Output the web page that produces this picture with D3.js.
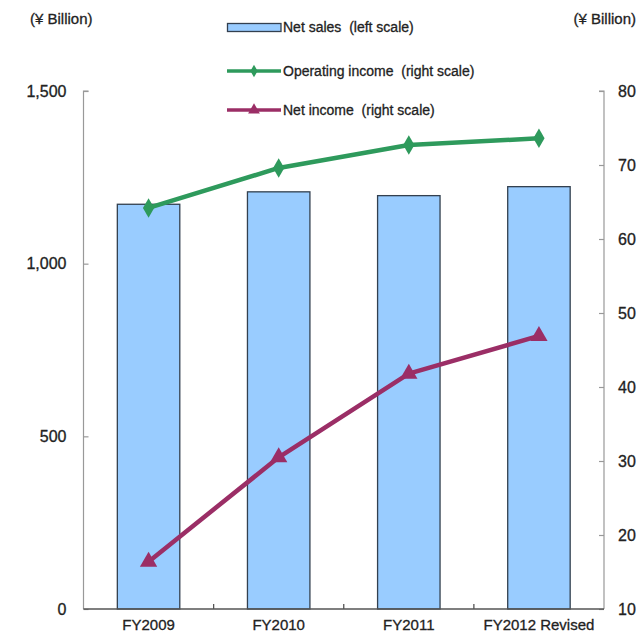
<!DOCTYPE html>
<html><head><meta charset="utf-8">
<script src="https://cdn.jsdelivr.net/npm/d3@7"></script>
<style>body{margin:0;background:#fff}svg{display:block}text{font-family:"Liberation Sans",Arial,sans-serif;stroke:#222;stroke-width:0.3px}</style>
</head><body>
<svg id="c" width="639" height="634"></svg>
<script>
const categories = ["FY2009","FY2010","FY2011","FY2012 Revised"];
const netSales = [1172, 1208, 1197, 1223];
const operatingIncome = [64.2, 69.6, 72.7, 73.6];
const netIncome = [16.4, 30.5, 41.8, 46.9];
const leftTicks = [0, 500, 1000, 1500];
const rightTicks = [10, 20, 30, 40, 50, 60, 70, 80];
const legendLabels = ["Net sales\u00A0 (left scale)", "Operating income\u00A0 (right scale)", "Net income\u00A0 (right scale)"];
const unitLabel = "(¥ Billion)";

const svg = d3.select("#c");
const L = 83.5, R = 604, T = 91, B = 609;
const x = d3.scaleBand().domain(categories).range([L, R]).paddingInner(0.52).paddingOuter(0.26);
const xb = d3.scaleBand().domain(categories).range([L, R]);
const yL = d3.scaleLinear().domain([0, 1500]).range([B, T]);
const yR = d3.scaleLinear().domain([10, 80]).range([B, T]);
const axisCol = "#999";
const textCol = "#222";

// bars
svg.append("g").selectAll("rect").data(categories).join("rect")
  .attr("x", d => x(d)).attr("width", x.bandwidth())
  .attr("y", (d,i) => yL(netSales[i])).attr("height", (d,i) => B - yL(netSales[i]))
  .attr("fill", "#99CCFF").attr("stroke", "#33404f").attr("stroke-width", 1.3);

// left axis
const gl = svg.append("g").attr("transform", `translate(${L},0)`)
  .call(d3.axisRight(yL).tickValues(leftTicks).tickSize(5).tickFormat(d3.format(",")));
gl.select(".domain").attr("stroke", axisCol).attr("stroke-width", 1.2).attr("d", `M5,${T}H0V${B}`);
gl.selectAll(".tick line").attr("stroke", axisCol).attr("stroke-width", 1.2);
gl.selectAll(".tick text").attr("x", -17).attr("text-anchor", "end").attr("fill", textCol)
  .style("font-size", "16px");

// right axis
const gr = svg.append("g").attr("transform", `translate(${R},0)`)
  .call(d3.axisLeft(yR).tickValues(rightTicks).tickSize(5));
gr.select(".domain").attr("stroke", axisCol).attr("stroke-width", 1.2).attr("d", `M-5,${T}H0V${B}`);
gr.selectAll(".tick line").attr("stroke", axisCol).attr("stroke-width", 1.2);
gr.selectAll(".tick text").attr("x", 14).attr("text-anchor", "start").attr("fill", textCol)
  .style("font-size", "16px");

// bottom axis
const gb = svg.append("g").attr("transform", `translate(0,${B})`)
  .call(d3.axisBottom(xb).tickSize(0));
gb.select(".domain").attr("stroke", "#555").attr("stroke-width", 1.5).attr("d", `M${L},0H${R}`);
gb.selectAll(".tick text").attr("y", 16).attr("dy", "0.32em").attr("fill", textCol).style("font-size", "15px");
// category separator ticks
svg.append("g").selectAll("line").data(categories.slice(1)).join("line")
  .attr("x1", d => xb(d)).attr("x2", d => xb(d)).attr("y1", B).attr("y2", B - 5)
  .attr("stroke", "#555").attr("stroke-width", 1.3);

// lines
const cx = d => x(d) + x.bandwidth()/2;
const green = "#2E9A5C", purple = "#9B2E66";
const lineOp = d3.line().x((d,i) => cx(categories[i])).y(d => yR(d));
svg.append("path").datum(operatingIncome).attr("d", lineOp).attr("fill","none")
  .attr("stroke", green).attr("stroke-width", 4.5).attr("stroke-linejoin","round");
svg.append("path").datum(netIncome).attr("d", lineOp).attr("fill","none")
  .attr("stroke", purple).attr("stroke-width", 4.5).attr("stroke-linejoin","round");
const diamond = d3.symbol().type(d3.symbolDiamond).size(110);
const tri = d3.symbol().type(d3.symbolTriangle).size(130);
svg.append("g").selectAll("path").data(operatingIncome).join("path")
  .attr("d", diamond).attr("fill", green)
  .attr("transform", (d,i) => `translate(${cx(categories[i])},${yR(d)})`);
svg.append("g").selectAll("path").data(netIncome).join("path")
  .attr("d", tri).attr("fill", purple)
  .attr("transform", (d,i) => `translate(${cx(categories[i])},${yR(d)})`);

// unit labels
svg.append("text").attr("x", 30).attr("y", 19).attr("dy","0.35em").attr("fill", textCol)
  .style("font-size","15px").text(unitLabel);
svg.append("text").attr("x", 636).attr("y", 19).attr("dy","0.35em").attr("text-anchor","end").attr("fill", textCol)
  .style("font-size","15px").text(unitLabel);

// legend
const lg = svg.append("g");
const ly = [27.5, 71, 110];
lg.append("rect").attr("x", 227.5).attr("y", 23.5).attr("width", 53.5).attr("height", 8)
  .attr("fill", "#99CCFF").attr("stroke", "#33404f").attr("stroke-width", 1.3);
lg.append("line").attr("x1",227).attr("x2",281).attr("y1",ly[1]).attr("y2",ly[1]).attr("stroke",green).attr("stroke-width",3.5);
lg.append("path").attr("d", d3.symbol().type(d3.symbolDiamond).size(45)).attr("fill",green).attr("transform",`translate(254,${ly[1]})`);
lg.append("line").attr("x1",227).attr("x2",281).attr("y1",ly[2]).attr("y2",ly[2]).attr("stroke",purple).attr("stroke-width",3.5);
lg.append("path").attr("d", d3.symbol().type(d3.symbolTriangle).size(60)).attr("fill",purple).attr("transform",`translate(254,${ly[2]})`);
lg.selectAll("text").data(legendLabels).join("text")
  .attr("x", 283).attr("y", (d,i) => ly[i]).attr("dy","0.35em").attr("fill", textCol)
  .style("font-size","14px").text(d => d);
</script>
</body></html>
